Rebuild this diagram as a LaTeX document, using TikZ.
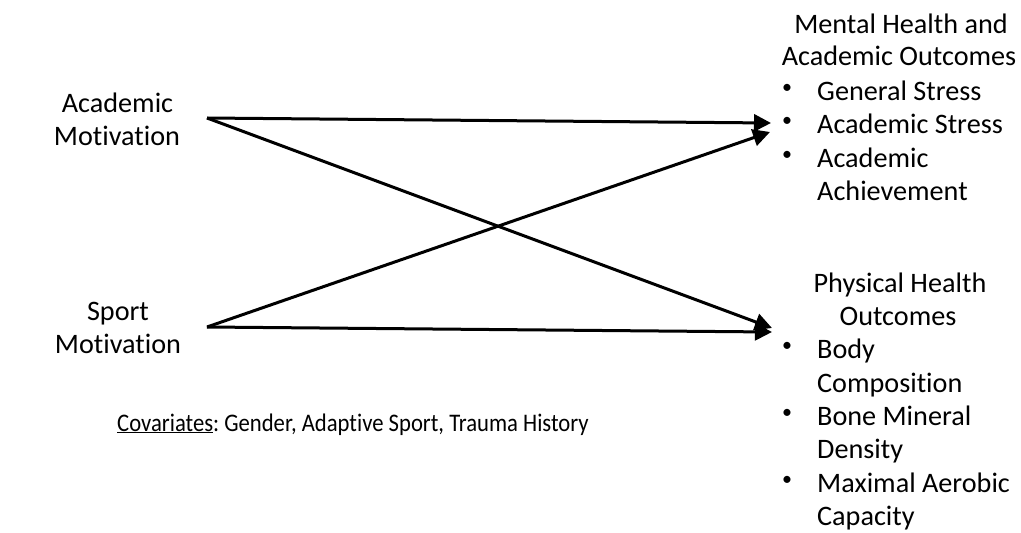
\documentclass[tikz,border=0pt]{standalone}
\usepackage{fontspec}
\setmainfont{Carlito}[Ligatures=NoCommon]
\usetikzlibrary{arrows.meta}
\frenchspacing
\begin{document}
\begin{tikzpicture}[x=1pt,y=-1pt,
  txt/.style={anchor=base,inner sep=0pt,font=\fontsize{28.2}{33}\selectfont},
  ltxt/.style={anchor=base west,inner sep=0pt,font=\fontsize{28.2}{33}\selectfont},
  bul/.style={anchor=base,inner sep=0pt,font=\fontsize{20}{20}\selectfont},
  arr/.style={line width=3pt,-{Triangle[length=17pt,width=17pt]}}]
\useasboundingbox (0,0) rectangle (1021,533);
% left
\node[txt] (am1) at (117.5,112) {Academic};
\node[txt] (am2) at (117,145) {Motivation};
\node[txt] (sm1) at (118,320) {Sport};
\node[txt] (sm2) at (118,353) {Motivation};
\node[ltxt,font=\fontsize{25.3}{33}\selectfont] (cov) at (117,431) {\scalebox{0.896}[1]{\underline{Covariates}: Gender, Adaptive Sport, Trauma History}};
% right top
\node[txt] (mh1) at (901,33) {Mental Health and};
\node[txt] (mh2) at (899,65) {Academic Outcomes};
\node[bul] (b1) at (787,93.5) {•};
\node[ltxt] (i1) at (817,100) {General Stress};
\node[bul] (b2) at (787,126.5) {•};
\node[ltxt] (i2) at (817,133) {Academic Stress};
\node[bul] (b3) at (787,160.5) {•};
\node[ltxt] (i3) at (817,167) {Academic};
\node[ltxt] (i3b) at (817,200) {Achievement};
% right bottom
\node[txt] (ph1) at (900,292) {Physical Health};
\node[txt] (ph2) at (898,325) {Outcomes};
\node[bul] (b4) at (787,351.5) {•};
\node[ltxt] (i4) at (817,358) {Body};
\node[ltxt] (i4b) at (817,392) {Composition};
\node[bul] (b5) at (787,418.5) {•};
\node[ltxt] (i5) at (817,425) {Bone Mineral};
\node[ltxt] (i5b) at (817,458) {Density};
\node[bul] (b6) at (787,485.5) {•};
\node[ltxt] (i6) at (817,492) {Maximal Aerobic};
\node[ltxt] (i6b) at (817,525) {Capacity};
% connector endpoints
\coordinate (amOut) at (207,118);
\coordinate (smOut) at (207,327);
\coordinate (mhInA) at (771,123);
\coordinate (mhInS) at (770,132);
\coordinate (phInA) at (772,328);
\coordinate (phInS) at (772,332);
\draw[arr] (amOut) -- (mhInA);
\draw[arr] (amOut) -- (phInA);
\draw[arr] (smOut) -- (mhInS);
\draw[arr] (smOut) -- (phInS);
\end{tikzpicture}
\end{document}
